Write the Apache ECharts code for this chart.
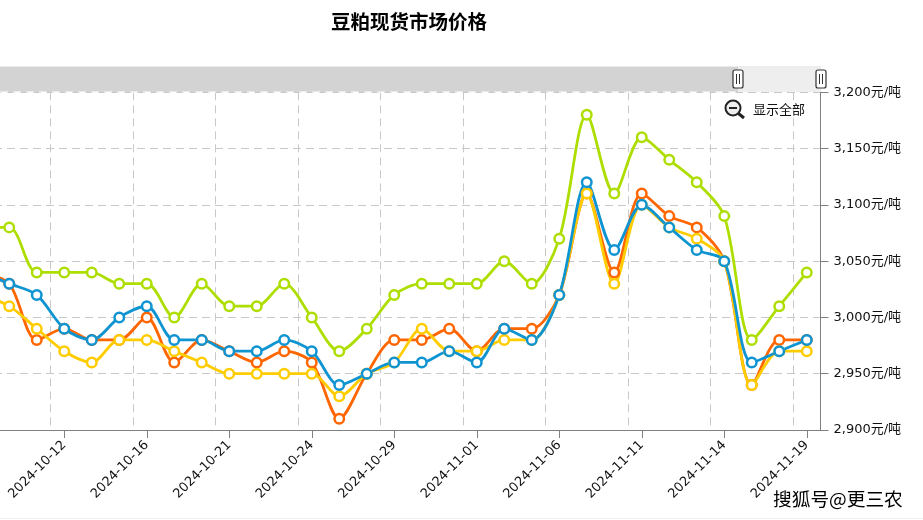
<!DOCTYPE html>
<html lang="zh">
<head>
    <meta charset="UTF-8">
    <script src="https://cdn.jsdelivr.net/npm/echarts@6/dist/echarts.min.js"></script>
    <title>豆粕现货市场价格</title>
    <style>
        html, body { margin: 0; padding: 0; background: #fff; overflow: hidden; }
    </style>
</head>
<body>
<div id="main" style="width: 923px;height:520px;"></div>
<script type="text/javascript">
    var titleText = '豆粕现货市场价格';
    var watermark = '搜狐号@更三农';
    var showAll = '显示全部';
    var fontName = '"DejaVu Sans", "Noto Sans CJK SC", sans-serif';

    var dates = ['2024-10-09', '2024-10-10', '2024-10-11', '2024-10-12', '2024-10-14', '2024-10-15', '2024-10-16',
        '2024-10-17', '2024-10-18', '2024-10-21', '2024-10-22', '2024-10-23', '2024-10-24', '2024-10-25', '2024-10-28',
        '2024-10-29', '2024-10-30', '2024-10-31', '2024-11-01', '2024-11-04', '2024-11-05', '2024-11-06', '2024-11-07',
        '2024-11-08', '2024-11-11', '2024-11-12', '2024-11-13', '2024-11-14', '2024-11-15', '2024-11-18', '2024-11-19'];

    var green = [3080, 3080, 3040, 3040, 3040, 3030, 3030, 3000, 3030, 3010, 3010, 3030, 3000, 2970, 2990,
        3020, 3030, 3030, 3030, 3050, 3030, 3070, 3180, 3110, 3160, 3140, 3120, 3090, 2980, 3010, 3040];
    var orange = [3040, 3030, 2980, 2990, 2980, 2980, 3000, 2960, 2980, 2970, 2960, 2970, 2960, 2910, 2950,
        2980, 2980, 2990, 2970, 2990, 2990, 3020, 3110, 3040, 3110, 3090, 3080, 3050, 2940, 2980, 2980];
    var yellow = [3020, 3010, 2990, 2970, 2960, 2980, 2980, 2970, 2960, 2950, 2950, 2950, 2950, 2930, 2950,
        2960, 2990, 2970, 2970, 2980, 2980, 3020, 3110, 3030, 3100, 3080, 3070, 3050, 2940, 2970, 2970];
    var blue = [3040, 3030, 3020, 2990, 2980, 3000, 3010, 2980, 2980, 2970, 2970, 2980, 2970, 2940, 2950,
        2960, 2960, 2970, 2960, 2990, 2980, 3020, 3120, 3060, 3100, 3080, 3060, 3050, 2960, 2970, 2980];

    function lineSeries(name, values, color) {
        return {
            name: name,
            type: 'line',
            data: values,
            smooth: 0.3,
            symbol: 'circle',
            symbolSize: 9.5,
            showAllSymbol: true,
            lineStyle: { color: color, width: 2.8 },
            itemStyle: { color: '#fff', borderColor: color, borderWidth: 2.5 },
            animation: false
        };
    }

    var myChart = echarts.init(document.getElementById('main'));

    var option = {
        animation: false,
        title: {
            text: titleText,
            left: 404,
            top: 7,
            textAlign: 'center',
            textStyle: { fontSize: 19.5, fontWeight: 'bold', color: '#000', fontFamily: '"Noto Sans CJK SC", sans-serif' }
        },
        grid: { left: -32, right: 102.5, top: 92.3, bottom: 90, outerBoundsMode: 'none' },
        xAxis: {
            type: 'category',
            boundaryGap: true,
            data: dates,
            axisLine: { lineStyle: { color: '#808080', width: 1 } },
            axisTick: { show: true, alignWithLabel: true, interval: 2, length: 8, lineStyle: { color: '#808080', width: 1 } },
            axisLabel: { interval: 2, rotate: 45, fontSize: 13, color: '#111', margin: 13, fontFamily: fontName },
            splitLine: { show: true, interval: 2, lineStyle: { color: '#c8c8c8', type: [8, 5], width: 1 } }
        },
        yAxis: {
            type: 'value',
            position: 'right',
            min: 2900,
            max: 3200,
            interval: 50,
            axisLine: { show: true, lineStyle: { color: '#808080', width: 1 } },
            axisTick: { show: true, length: 8, lineStyle: { color: '#808080', width: 1 } },
            axisLabel: {
                fontSize: 13,
                color: '#111',
                margin: 13,
                fontFamily: fontName,
                formatter: function (v) { return echarts.format.addCommas(v) + '元/吨'; }
            },
            splitLine: { show: true, lineStyle: { color: '#c8c8c8', type: [8, 5], width: 1 } }
        },
        series: [
            lineSeries('绿', green, '#aede00'),
            lineSeries('橙', orange, '#ff6600'),
            lineSeries('黄', yellow, '#ffcc00'),
            lineSeries('蓝', blue, '#0f94d2')
        ],
        graphic: [
            // 顶部滑块
            { type: 'rect', z: 5, shape: { x: 0, y: 66, width: 821, height: 1 }, style: { fill: '#ececec' }, silent: true },
            { type: 'rect', z: 5, shape: { x: 0, y: 67, width: 738, height: 25 }, style: { fill: '#d3d3d3' }, silent: true },
            { type: 'rect', z: 5, shape: { x: 738, y: 67, width: 83, height: 25 }, style: { fill: '#eeeeee' }, silent: true },
            { type: 'line', z: 6, shape: { x1: 0, y1: 92, x2: 738, y2: 92 }, style: { stroke: '#fff', lineWidth: 1, lineDash: [8, 5] }, silent: true },
            { type: 'rect', z: 7, shape: { x: 733, y: 70, width: 10, height: 18, r: 2 }, style: { fill: '#fff', stroke: '#333', lineWidth: 1.2 }, silent: true },
            { type: 'rect', z: 8, shape: { x: 736, y: 74, width: 1, height: 10 }, style: { fill: '#333' }, silent: true },
            { type: 'rect', z: 8, shape: { x: 739, y: 74, width: 1, height: 10 }, style: { fill: '#333' }, silent: true },
            { type: 'rect', z: 7, shape: { x: 816, y: 70, width: 10, height: 18, r: 2 }, style: { fill: '#fff', stroke: '#333', lineWidth: 1.2 }, silent: true },
            { type: 'rect', z: 8, shape: { x: 819, y: 74, width: 1, height: 10 }, style: { fill: '#333' }, silent: true },
            { type: 'rect', z: 8, shape: { x: 822, y: 74, width: 1, height: 10 }, style: { fill: '#333' }, silent: true },
            // 显示全部
            { type: 'circle', z: 7, shape: { cx: 733, cy: 108, r: 7.5 }, style: { fill: '#eee', stroke: '#222', lineWidth: 2 }, silent: true },
            { type: 'line', z: 7, shape: { x1: 738.5, y1: 113.5, x2: 744, y2: 118 }, style: { stroke: '#222', lineWidth: 3 }, silent: true },
            { type: 'line', z: 7, shape: { x1: 729, y1: 108, x2: 737, y2: 108 }, style: { stroke: '#222', lineWidth: 2 }, silent: true },
            { type: 'text', z: 7, x: 753, y: 103, style: { text: showAll, fontSize: 13, fill: '#111', fontFamily: '"Noto Sans CJK SC", sans-serif' }, silent: true },
            // 水印
            { type: 'text', z: 9, x: 773, y: 490, style: { text: watermark, fontSize: 18.7, fill: '#000', stroke: '#fff', lineWidth: 1, fontFamily: '"Noto Sans CJK SC", sans-serif' }, silent: true },
            { type: 'rect', z: 5, shape: { x: 0, y: 518, width: 923, height: 1 }, style: { fill: '#eeeeee' }, silent: true }
        ]
    };

    myChart.setOption(option);
</script>
</body>
</html>
